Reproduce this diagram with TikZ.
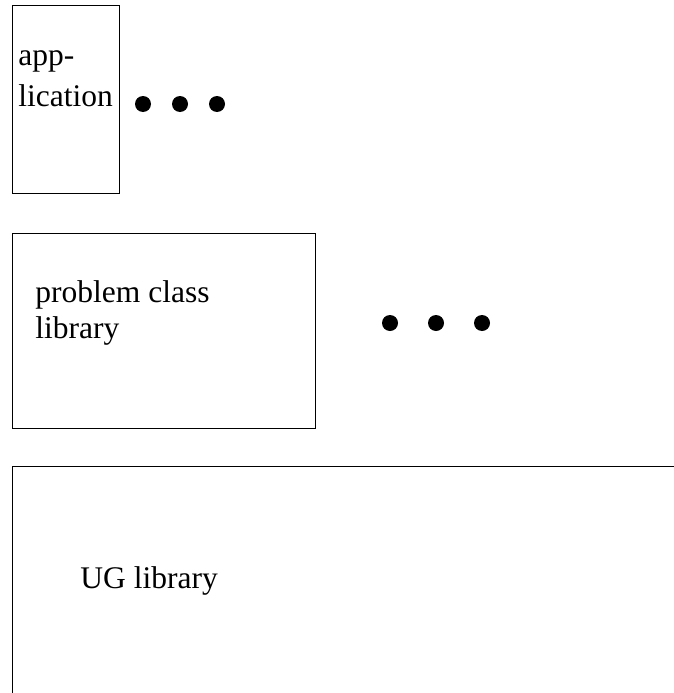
\documentclass[tikz,border=0pt]{standalone}
\usepackage{fontspec}
\setmainfont{Liberation Serif}
\tikzset{circ/.style = {fill, circle, inner sep = 0, minimum size = 16}}
\tikzset{lbl/.style = {anchor = base west, inner sep = 0,
                       font = \fontsize{31.5}{36}\selectfont}}

\begin{document}
\begin{tikzpicture}[x=1pt, y=-1pt, line width=0.9pt]
      \useasboundingbox (0, 0) rectangle (674, 693);

      \draw (12.5, 5.5) rectangle (119, 193.5);
      \draw (12.5, 233) rectangle (315, 428.5);
      \draw (700, 466.5) -- (12.5, 466.5) -- (12.5, 720);

      \node [lbl] (app1) at (18, 66) {app-};
      \node [lbl] (app2) at (18, 106) {lication};
      \node [lbl] (pcl1) at (35, 302) {problem class};
      \node [lbl] (pcl2) at (35, 338) {library};
      \node [lbl] (ug) at (80, 588) {UG library};

      \node [circ] (a1) at (143, 104) {};
      \node [circ] (a2) at (180, 104) {};
      \node [circ] (a3) at (217, 104) {};
      \node [circ] (p1) at (390, 323) {};
      \node [circ] (p2) at (436, 323) {};
      \node [circ] (p3) at (482, 323) {};
    \end{tikzpicture}
\end{document}
